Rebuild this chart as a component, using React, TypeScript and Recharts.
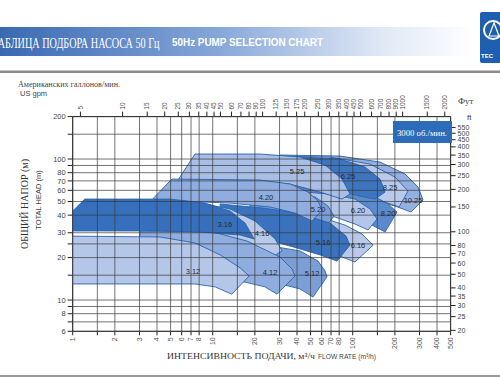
import React from 'react';
import { ScatterChart, Scatter, XAxis, YAxis, CartesianGrid } from 'recharts';

type P = [number, number];

// pump regions, [flow m3/h, head m]
const r10_25: P[] = [[30.2, 106.8], [81.1, 105.0], [156.7, 95.2], [236.4, 78.3], [292.7, 63.3], [317.8, 51.2], [260.9, 42.1], [200.5, 46.4], [133, 52.0], [81.1, 56.5], [42.0, 59.3]];
const r8_25: P[] = [[25.7, 105.0], [68.8, 103.3], [133, 92.1], [200.5, 74.5], [248.3, 59.3], [214.2, 45.7], [170.1, 49.5], [112.7, 55.5], [68.8, 59.3], [42.0, 61.2]];
const r8_20: P[] = [[42.0, 65.4], [81.1, 63.3], [133, 56.5], [178.7, 48.0], [207.2, 42.1], [170.1, 30.4], [137.3, 34.0], [95.6, 39.4], [58.4, 42.8], [42.0, 44.2]];
const r6_25: P[] = [[18.5, 105.0], [42.0, 103.3], [81.1, 100], [122.4, 87.8], [156.7, 72.1], [170.1, 58.3], [144.3, 52.0], [112.7, 54.6], [81.1, 59.3], [49.5, 66.5], [30.2, 72.1], [18.5, 72.1]];
const r6_20: P[] = [[35.6, 59.3], [68.8, 56.5], [103.8, 52.0], [133, 44.2], [149.1, 37.5], [128.6, 31.4], [103.8, 34.6], [74.7, 38.8], [49.5, 41.4], [35.6, 42.8]];
const r6_16: P[] = [[30.2, 42.8], [58.4, 38.8], [88.1, 34.0], [116.5, 29.4], [139.6, 24.5], [103.8, 18.6], [81.1, 20.5], [58.4, 22.6], [38.7, 24.5], [30.2, 26.0]];
const r5_25: P[] = [[5.65, 71.0], [7.47, 108.5], [21.8, 108.5], [42.0, 103.3], [63.4, 90.7], [83.9, 72.1], [95.6, 56.5], [83.9, 52.0], [58.4, 58.3], [35.6, 66.5], [18.5, 69.8]];
const r5_20: P[] = [[18.5, 61.2], [38.7, 58.3], [53.8, 53.8], [66.6, 46.4], [73.5, 39.4], [65.5, 34.0], [53.8, 36.9], [38.7, 40.1], [25.7, 42.1], [18.5, 42.8]];
const r5_16: P[] = [[11.3, 48.0], [22.9, 44.9], [40.0, 41.4], [68.8, 35.2], [89.6, 28.4], [95.6, 24.5], [77.2, 18.9], [58.4, 20.9], [40.0, 23.4], [27.9, 25.8], [18.5, 27.1], [11.3, 28.0]];
const r5_12: P[] = [[21.8, 24.9], [42.0, 22.3], [56.5, 18.9], [63.4, 16.1], [65.5, 14.6], [52.0, 10.5], [42.0, 12.0], [30.2, 13.0], [21.8, 13.4]];
const r4_20: P[] = [[3.67, 51.2], [5.1, 72.1], [21.8, 71.0], [35.6, 66.5], [47.9, 58.3], [56.5, 50.4], [60.4, 43.5], [51.2, 36.3], [38.7, 41.4], [25.7, 45.7], [13.3, 48.7]];
const r4_16: P[] = [[3.57, 50.4], [8.11, 48.7], [13.3, 44.2], [20.05, 36.3], [27.9, 27.1], [31.3, 22.3], [26.5, 20.2], [20.05, 23.0], [13.3, 27.1], [8.11, 28.9], [3.57, 29.9]];
const r4_12: P[] = [[3.02, 30.9], [10.0, 30.4], [17.6, 26.2], [30.2, 20.2], [36.9, 16.6], [38.7, 14.8], [28.8, 11.0], [23.6, 12.4], [17.0, 13.4], [11.3, 13.6], [3.02, 13.6]];
const r3_16: P[] = [[1, 42.8], [1.22, 52.0], [4.96, 52.0], [8.81, 48.7], [13.3, 42.8], [17.0, 35.2], [19.8, 27.1], [15.7, 28.9], [8.11, 30.4], [4.2, 30.9], [1, 30.9]];
const r3_12: P[] = [[1, 28.4], [4.2, 28.0], [7.47, 25.4], [11.3, 20.9], [15.7, 16.9], [18.2, 14.8], [13.7, 11.0], [10.4, 12.4], [7.47, 13.0], [4.2, 13.0], [1, 13.0]];

// back to front
const regions = [
  { pts: r10_25, fill: '#93b0e0' },
  { pts: r8_25, fill: '#b8c9ea' },
  { pts: r8_20, fill: '#5a8acb' },
  { pts: r6_25, fill: '#3d75bf' },
  { pts: r6_20, fill: '#b3c5e8' },
  { pts: r6_16, fill: '#b8c9ea' },
  { pts: r5_25, fill: '#a9bee5' },
  { pts: r5_20, fill: '#7c9ed7' },
  { pts: r5_16, fill: '#3a72bd' },
  { pts: r5_12, fill: '#7c9ed7' },
  { pts: r4_20, fill: '#8fadde' },
  { pts: r4_16, fill: '#b8c9ea' },
  { pts: r4_12, fill: '#8fadde' },
  { pts: r3_16, fill: '#3670bc' },
  { pts: r3_12, fill: '#b5c7e9' },
];

const labelNames = ['3.12', '3.16', '4.12', '4.16', '4.20', '5.12', '5.16', '5.20', '5.25', '6.16', '6.20', '6.25', '8.20', '8.25', '10.25'];
const labelFlow = [7.23, 12.2, 25.7, 22.5, 24.0, 51.2, 61.4, 56.5, 40.0, 109, 109, 92.5, 178.7, 184.7, 269.6];
const labelHead = [16.06, 34.6, 15.8, 29.9, 53.8, 15.5, 25.8, 44.2, 82.2, 24.5, 43.4, 75.7, 41.4, 63.2, 51.2];

const flowTicks = [1, 1.5, 2, 3, 4, 5, 6, 7, 8, 10, 15, 20, 30, 40, 50, 60, 70, 80, 100, 150, 200, 300, 400, 500];
const flowLabeled = [1, 2, 3, 4, 5, 6, 7, 8, 10, 20, 30, 40, 50, 60, 70, 80, 100, 200, 300, 400, 500];
const gpmTicks = [5, 10, 15, 20, 25, 30, 35, 40, 45, 50, 60, 70, 80, 90, 100, 125, 150, 175, 200, 250, 300, 350, 400, 450, 500, 600, 700, 800, 900, 1000, 1500, 2000];
const headTicks = [6, 7, 8, 9, 10, 15, 20, 25, 30, 40, 50, 60, 70, 80, 90, 100, 150, 200];
const headLabeled = [6, 8, 10, 20, 30, 40, 50, 60, 70, 80, 100, 200];
const ftTicks = [20, 25, 30, 35, 40, 50, 60, 70, 80, 100, 150, 200, 250, 300, 350, 400, 450, 500, 550];

const flowDomain: [number, number] = [1, 500];
const headDomain: [number, number] = [6, 200];
const GPM = 4.40287;
const FT = 3.28084;

const toRows = (pts: P[]) => pts.map(([q, h]) => ({ q, h }));
const labelRows = labelNames.map((name, i) => ({ name, q: labelFlow[i], h: labelHead[i] }));
// invisible rows so the gpm axis has something bound to it
const gpmRows = gpmTicks.map((g) => ({ g, h: 10 }));

const SANS = 'Liberation Sans, Arial, sans-serif';
const SERIF = 'Liberation Serif, Times New Roman, serif';

const BottomTick = ({ x, y, payload }: any) =>
  flowLabeled.includes(payload.value) ? (
    <text x={x} y={y} transform={`rotate(-90 ${x} ${y})`} textAnchor="end" dy="0.32em" fontSize={7} fill="#555" fontFamily={SANS}>
      {payload.value}
    </text>
  ) : <g />;

const TopTick = ({ x, y, payload }: any) => (
  <text x={x} y={y} transform={`rotate(-90 ${x} ${y})`} textAnchor="start" dy="0.32em" fontSize={6.5} fill="#555" fontFamily={SANS}>
    {payload.value}
  </text>
);

const LabelMark = (p: any) => (
  <text x={p.cx} y={p.cy} dy={3} textAnchor="middle" fontSize={7.5} fill="#2a2a2a" fontFamily={SANS}>
    {p.payload.name}
  </text>
);

export default function App() {
  return (
    <div style={{ position: 'absolute', left: 0, top: 0, width: 500, height: 380, background: '#fff', overflow: 'hidden' }}>
      <ScatterChart width={500} height={380} margin={{ top: 86.6, right: 19.4, bottom: 18.7, left: 42.7 }}>
        <XAxis dataKey="q" type="number" scale="log" domain={flowDomain} allowDataOverflow ticks={flowTicks} interval={0}
          height={30} tickSize={4} tickMargin={2} tick={<BottomTick />} stroke="#222" />
        <XAxis xAxisId="gpm" dataKey="g" orientation="top" type="number" scale="log" domain={[flowDomain[0] * GPM, flowDomain[1] * GPM]}
          allowDataOverflow ticks={gpmTicks} interval={0} height={30} tickSize={5} tickMargin={2} tick={<TopTick />} stroke="#222" />
        <YAxis dataKey="h" type="number" scale="log" domain={headDomain} allowDataOverflow ticks={headTicks} interval={0}
          width={30} tickSize={5} tickFormatter={(v) => (headLabeled.includes(v) ? String(v) : '')}
          tick={{ fontSize: 7.5, fill: '#444', fontFamily: SANS }} stroke="#222" />
        <YAxis yAxisId="ft" orientation="right" type="number" scale="log" domain={[headDomain[0] * FT, headDomain[1] * FT]}
          allowDataOverflow ticks={ftTicks} interval={0} width={30} tickSize={5}
          tick={{ fontSize: 7, fill: '#444', fontFamily: SANS }} stroke="#222" />
        <Scatter xAxisId="gpm" data={gpmRows} shape={() => <g />} isAnimationActive={false} />
        {regions.map((r, i) => (
          <Scatter key={i} data={toRows(r.pts)} line={{ fill: r.fill, stroke: '#2c63ae', strokeWidth: 0.9 }}
            lineType="joint" lineJointType="linearClosed" shape={() => <g />} isAnimationActive={false} />
        ))}
        <CartesianGrid stroke="#3a3a3a" strokeWidth={0.7} zIndex={650} />
        <Scatter data={labelRows} shape={LabelMark} isAnimationActive={false} zIndex={700} />
      </ScatterChart>

      <svg width={500} height={380} style={{ position: 'absolute', left: 0, top: 0, pointerEvents: 'none' }}>
        <defs>
          <linearGradient id="band" x1="0" y1="0" x2="1" y2="0">
            <stop offset="0" stopColor="#3a69b2" />
            <stop offset="0.45" stopColor="#84a5d8" />
            <stop offset="0.8" stopColor="#dfe8f5" />
            <stop offset="1" stopColor="#ffffff" />
          </linearGradient>
        </defs>
        <rect x={0} y={27} width={475} height={29} fill="url(#band)" />
        <g transform="translate(-8 48) scale(0.68 1)">
          <text x={0} y={0} fontFamily={SERIF} fontSize={15} fill="#fff">ТАБЛИЦА ПОДБОРА НАСОСА 50 Гц</text>
        </g>
        <text x={172} y={46} fontFamily={SANS} fontWeight="bold" fontSize={10} fill="#fff" textLength={151} lengthAdjust="spacingAndGlyphs">50Hz PUMP SELECTION CHART</text>

        <rect x={480} y={12} width={24} height={51} rx={2} fill="#1f5fb0" />
        <circle cx={493} cy={30} r={9} fill="none" stroke="#fff" strokeWidth={2} />
        <path d="M489 36 L494 23 L499 36 Z" fill="none" stroke="#fff" strokeWidth={1.2} />
        <text x={481} y={58} fontFamily={SANS} fontWeight="bold" fontSize={6} fill="#fff">TEC</text>

        <rect x={0} y={70.5} width={500} height={2.5} fill="#8c8c8c" />
        <rect x={0} y={375} width={500} height={2} fill="#9a9a9a" />

        <text x={18} y={87} fontFamily={SERIF} fontSize={8.5} fill="#444" textLength={102} lengthAdjust="spacingAndGlyphs">Американских галлонов/мин.</text>
        <text x={20} y={96} fontFamily={SANS} fontSize={7.5} fill="#444">US gpm</text>
        <text x={458} y={104} fontFamily={SERIF} fontSize={9} fill="#444">Фут</text>
        <text x={467} y={120} fontFamily={SANS} fontSize={8} fill="#444">ft</text>

        <text x={28} y={204} transform="rotate(-90 28 204)" textAnchor="middle" fontFamily={SERIF} fontSize={10} fill="#333">ОБЩИЙ НАПОР (м)</text>
        <text x={41} y={200} transform="rotate(-90 41 200)" textAnchor="middle" fontFamily={SANS} fontSize={7.5} fill="#444">TOTAL HEAD (m)</text>

        <text x={167} y={359} fontFamily={SERIF} fontSize={9} fill="#333" textLength={148} lengthAdjust="spacingAndGlyphs">ИНТЕНСИВНОСТЬ ПОДАЧИ, м³/ч</text>
        <text x={318} y={359} fontFamily={SANS} fontSize={7.5} fill="#444" textLength={58} lengthAdjust="spacingAndGlyphs">FLOW RATE (m³/h)</text>

        <rect x={393} y={121} width={59} height={22} fill="#2d6cb8" />
        <text x={397} y={136} fontFamily={SERIF} fontSize={9} fill="#fff" textLength={50} lengthAdjust="spacingAndGlyphs">3000 об./мин.</text>
      </svg>
    </div>
  );
}
